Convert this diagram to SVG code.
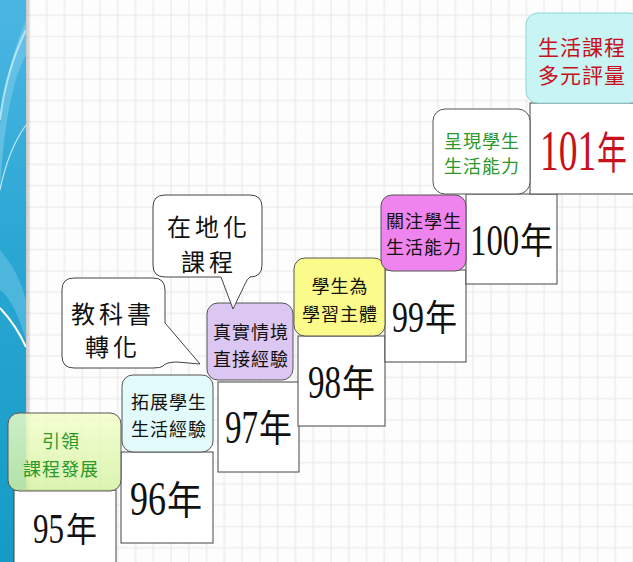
<svg xmlns="http://www.w3.org/2000/svg" width="633" height="562" viewBox="0 0 633 562">
<defs>
<pattern id="grid" patternUnits="userSpaceOnUse" x="27.9" y="14.3" width="17.77" height="21.3">
<path d="M1,0 V21.3 M0,1 H17.77" stroke="#e8e8e8" stroke-width="1.1" fill="none"/>
</pattern>
<linearGradient id="band" x1="0" y1="0" x2="0" y2="1">
<stop offset="0" stop-color="#4cb6e2"/>
<stop offset="0.45" stop-color="#2aa6d3"/>
<stop offset="1" stop-color="#149cc4"/>
</linearGradient>
<linearGradient id="shadow" x1="0" y1="0" x2="1" y2="0">
<stop offset="0" stop-color="#000" stop-opacity="0.22"/>
<stop offset="1" stop-color="#000" stop-opacity="0"/>
</linearGradient>
<linearGradient id="lime" x1="0" y1="0" x2="0" y2="1">
<stop offset="0" stop-color="#f2ffc8"/>
<stop offset="1" stop-color="#d4f2a0"/>
</linearGradient>
</defs>
<style>
.year{fill:#fff;stroke:#444;stroke-width:1}
.lbl{stroke:#555;stroke-width:1}
.yt{font-family:"Liberation Serif",serif;fill:#111}
.nian{font-family:"Noto Sans CJK TC","Noto Sans CJK SC",sans-serif;fill:#111}
.lt{font-family:"Noto Sans CJK TC","Noto Sans CJK SC",sans-serif;font-size:18px;letter-spacing:1px;text-anchor:middle;fill:#111}
.bt{font-family:"Noto Sans CJK TC","Noto Sans CJK SC",sans-serif;font-size:24px;letter-spacing:4px;text-anchor:middle;fill:#111}
.bub{fill:#fff;stroke:#444;stroke-width:1}
.green{fill:#2a982a}
.red{fill:#c8101c}
</style>
<rect x="0" y="0" width="633" height="562" fill="#fdfdfd"/>
<rect x="26" y="0" width="607" height="562" fill="url(#grid)"/>
<g id="band-deco">
<rect x="0" y="0" width="26" height="562" fill="url(#band)"/>
<path d="M26,20 Q8,60 0,125 L0,190 Q6,90 26,55 Z" fill="#7ccbe9" opacity="0.6"/>
<path d="M26,30 Q6,70 0,120" stroke="#c8eefa" stroke-width="2" fill="none" opacity="0.8"/>
<path d="M26,125 Q8,150 0,190" stroke="#e6f8ff" stroke-width="1.2" fill="none" opacity="0.8"/>
<path d="M0,250 Q18,270 26,300 L26,340 Q14,300 0,290 Z" fill="#6cc4e6" opacity="0.55"/>
<path d="M0,308 Q16,325 26,347" stroke="#ffffff" stroke-width="2" fill="none"/>
<rect x="26" y="0" width="5" height="562" fill="url(#shadow)"/>
</g>
<g id="y95"><rect class="year" x="14" y="490" width="102" height="80"/><text class="yt" transform="translate(33,543) scale(0.74,1)" font-size="42">95</text><text class="nian" transform="translate(66,542) scale(0.91,1)" font-size="34">年</text></g>
<g id="y96"><rect class="year" x="121" y="452" width="92" height="91"/><text class="yt" transform="translate(130,515) scale(0.75,1)" font-size="48">96</text><text class="nian" transform="translate(167,514) scale(0.9,1)" font-size="39">年</text></g>
<g id="y97"><rect class="year" x="218" y="382" width="81" height="90"/><text class="yt" transform="translate(225,443) scale(0.72,1)" font-size="46">97</text><text class="nian" transform="translate(259,442) scale(0.89,1)" font-size="37">年</text></g>
<g id="y98"><rect class="year" x="298" y="336" width="87" height="90"/><text class="yt" transform="translate(308,398) scale(0.72,1)" font-size="46">98</text><text class="nian" transform="translate(342,397) scale(0.89,1)" font-size="37">年</text></g>
<g id="y99"><rect class="year" x="385" y="270" width="81" height="92"/><text class="yt" transform="translate(392,332) scale(0.71,1)" font-size="45">99</text><text class="nian" transform="translate(425,331) scale(0.89,1)" font-size="36">年</text></g>
<g id="y100"><rect class="year" x="466" y="194" width="91" height="90"/><text class="yt" transform="translate(470,255) scale(0.73,1)" font-size="45">100</text><text class="nian" transform="translate(520,254) scale(0.92,1)" font-size="36">年</text></g>
<g id="y101"><rect class="year" x="530" y="103" width="110" height="91"/><text class="yt red" transform="translate(540,170) scale(0.67,1)" font-size="56">101</text><text class="nian red" transform="translate(597,169) scale(0.68,1)" font-size="44">年</text></g>
<g id="l95"><rect class="lbl" x="8" y="413" width="113" height="78" rx="11" fill="url(#lime)" fill-opacity="0.82"/><text class="lt green" x="61" y="448">引領</text><text class="lt green" x="61" y="476">課程發展</text></g>
<g id="l96"><rect class="lbl" x="122" y="375" width="91" height="77" rx="11" fill="#e2fafa"/><text class="lt" x="169" y="409">拓展學生</text><text class="lt" x="169" y="436">生活經驗</text></g>
<g id="l97"><rect class="lbl" x="207" y="303" width="86" height="77" rx="11" fill="#dcc6f2"/><text class="lt" x="251" y="339">真實情境</text><text class="lt" x="251" y="366">直接經驗</text></g>
<g id="l98"><rect class="lbl" x="294" y="258" width="91" height="78" rx="11" fill="#fbfb8c"/><text class="lt" x="340" y="293">學生為</text><text class="lt" x="340" y="321">學習主體</text></g>
<g id="l99"><rect class="lbl" x="381" y="195" width="85" height="76" rx="11" fill="#ef84ef"/><text class="lt" x="424" y="228">關注學生</text><text class="lt" x="424" y="254">生活能力</text></g>
<g id="l100"><rect class="lbl" x="433" y="109" width="97" height="85" rx="12" fill="#fff"/><text class="lt green" x="482" y="148">呈現學生</text><text class="lt green" x="482" y="173">生活能力</text></g>
<g id="l101"><rect x="526" y="13" width="115" height="90" rx="12" fill="#c8f4f4" stroke="#8cd6d6" stroke-width="1"/><text class="lt red" x="582" y="55" style="font-size:21px">生活課程</text><text class="lt red" x="582" y="83" style="font-size:21px">多元評量</text></g>
<g id="bubble-local"><path class="bub" d="M165,195 H250 Q262,195 262,207 V265 Q262,277 250,277 Q247,279 245,284 L233,309 L221,277 H165 Q153,277 153,265 V207 Q153,195 165,195 Z"/><text class="bt" x="209" y="236">在地化</text><text class="bt" x="209" y="271">課程</text></g>
<g id="bubble-textbook"><path class="bub" d="M74,278 H153 Q165,278 165,290 V323 L200,364 L177,362 Q166,362 163,366 Q161,368 153,368 H74 Q62,368 62,356 V290 Q62,278 74,278 Z"/><text class="bt" x="113" y="323">教科書</text><text class="bt" x="113" y="356">轉化</text></g>
</svg>
